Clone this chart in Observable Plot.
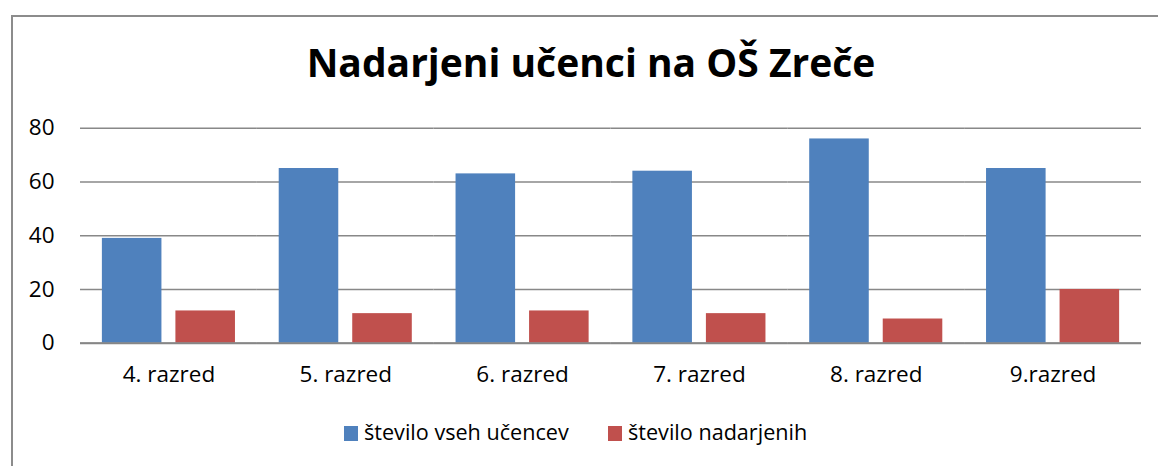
<!DOCTYPE html>
<html>
<head>
<meta charset="utf-8">
<script src="https://cdn.jsdelivr.net/npm/d3@7"></script>
<script src="https://cdn.jsdelivr.net/npm/@observablehq/plot@0.6"></script>
<style>
  html, body { margin: 0; padding: 0; background: #fff; }
  body { width: 1158px; height: 466px; position: relative; overflow: hidden; font-family: "Open Sans", Lato, sans-serif; }
  #frame { position: absolute; left: 11px; top: 15px; width: 1200px; height: 500px; border-left: 2px solid #8c8c8c; border-top: 2px solid #8c8c8c; }
  #title { position: absolute; left: 0; width: 1182px; top: 42px; text-align: center; font-weight: bold; font-size: 39px; line-height: 1; color: #000; white-space: nowrap; }
  #chart { position: absolute; left: 0; top: 100px; }
  #legend { position: absolute; top: 418px; left: 0; width: 1158px; font-size: 21.6px; line-height: 1.3; color: #000; }
  .item { position: absolute; top: 0; white-space: nowrap; }
  .sw { position: absolute; width: 14px; height: 15px; top: 8px; }
  .lt { position: absolute; left: 20px; top: 0; }
</style>
</head>
<body>
<div id="frame"></div>
<div id="title">Nadarjeni učenci na OŠ Zreče</div>
<div id="chart"></div>
<div id="legend"></div>
<script>
const categories = ["4. razred", "5. razred", "6. razred", "7. razred", "8. razred", "9.razred"];
const seriesNames = ["število vseh učencev", "število nadarjenih"];
const allStudents = [39, 65, 63, 64, 76, 65];
const gifted = [12, 11, 12, 11, 9, 20];
const colors = ["#4F81BD", "#C0504D"];
const yTicks = [0, 20, 40, 60, 80];

const data = [];
categories.forEach((c, i) => {
  data.push({cat: c, series: seriesNames[0], value: allStudents[i]});
  data.push({cat: c, series: seriesNames[1], value: gifted[i]});
});

const plot = Plot.plot({
  width: 1158,
  height: 300,
  marginLeft: 80,
  marginRight: 17,
  marginTop: 27.7,
  marginBottom: 57.3,
  style: {fontFamily: "'Open Sans', Lato, sans-serif", fontSize: "22.5px", color: "#000", background: "transparent"},
  fx: {domain: categories, padding: 0, round: false, label: null, tickSize: 0, tickPadding: 23, axis: "bottom"},
  x: {domain: seriesNames, paddingInner: 0.19, paddingOuter: 0.2975, round: false, axis: null},
  y: {domain: [0, 80], ticks: yTicks, tickSize: 0, tickPadding: 26, label: null},
  color: {domain: seriesNames, range: colors},
  marks: [
    Plot.ruleY(yTicks, {stroke: "#888888", strokeWidth: 1.5, strokeOpacity: 1}),
    Plot.barY(data, {fx: "cat", x: "series", y: "value", fill: "series"}),
    Plot.ruleY([0], {stroke: "#868686", strokeWidth: 2})
  ]
});
document.getElementById("chart").appendChild(plot);

const legend = document.getElementById("legend");
const lefts = [344, 608];
seriesNames.forEach((s, i) => {
  const item = document.createElement("div");
  item.className = "item";
  item.style.left = lefts[i] + "px";
  item.innerHTML = `<span class="sw" style="background:${colors[i]}"></span><span class="lt">${s}</span>`;
  legend.appendChild(item);
});
</script>
</body>
</html>
